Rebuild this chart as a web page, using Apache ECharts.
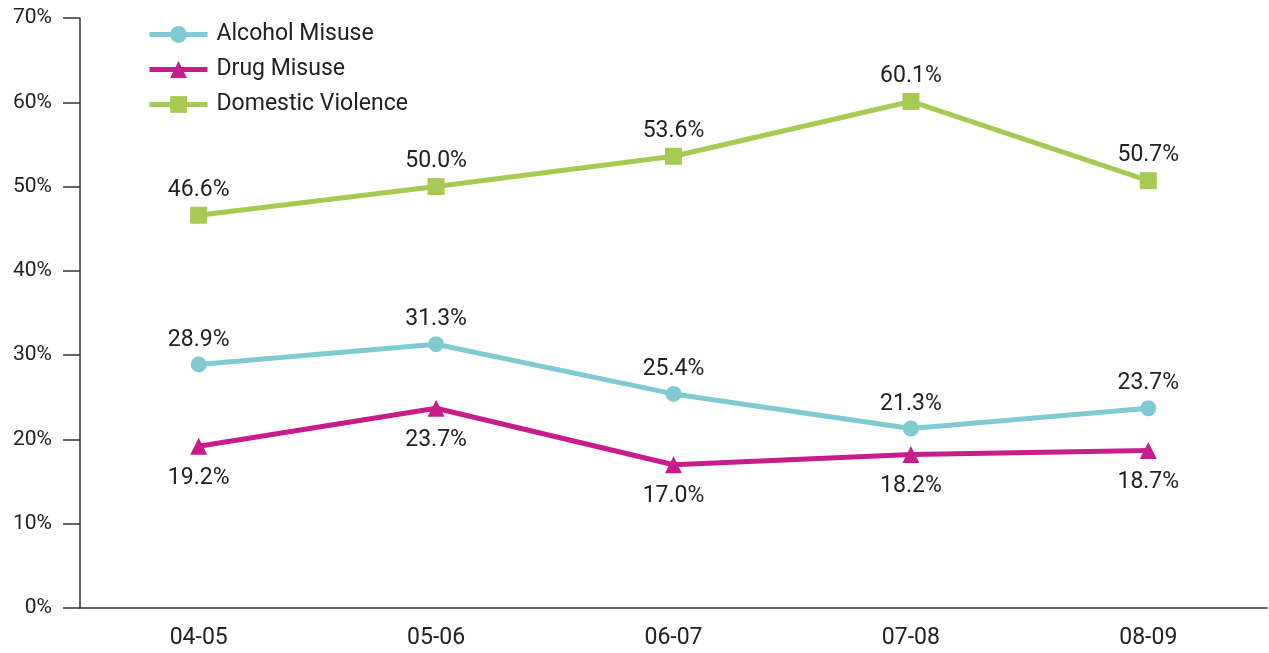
<!DOCTYPE html>
<html>
<head>
<meta charset="utf-8">
<script src="https://cdn.jsdelivr.net/npm/echarts@6/dist/echarts.min.js"></script>
<style>
html,body{margin:0;padding:0;background:#fff;}
#chart{width:1269px;height:653px;}
</style>
</head>
<body>
<div id="chart"></div>
<script>
// data
var years = ['04-05', '05-06', '06-07', '07-08', '08-09'];
var alcohol = [28.9, 31.3, 25.4, 21.3, 23.7];
var drug = [19.2, 23.7, 17.0, 18.2, 18.7];
var domestic = [46.6, 50.0, 53.6, 60.1, 50.7];
var yTicks = [0, 10, 20, 30, 40, 50, 60, 70];

var font = 'Roboto, "Noto Sans", sans-serif';

function makeSeries(name, data, color, symbol, size, pos, dist) {
	return {
		name: name,
		type: 'line',
		data: data,
		symbol: symbol,
		symbolSize: size,
		lineStyle: {width: 5, color: color},
		itemStyle: {color: color},
		label: {
			show: true,
			position: pos,
			distance: dist,
			color: '#222',
			fontSize: 23,
			fontFamily: font,
			formatter: function(p){ return p.value.toFixed(1) + '%'; }
		}
	};
}

var myChart = echarts.init(document.getElementById('chart'));
var option = {
	animation: false,
	textStyle: {fontFamily: font},
	grid: {left: 80, right: 2, top: 18, bottom: 45},
	legend: {
		orient: 'vertical',
		left: 142,
		top: 18,
		itemWidth: 58,
		itemHeight: 21,
		itemGap: 12,
		lineStyle: {width: 5},
		textStyle: {fontSize: 23, lineHeight: 23, color: '#222', fontFamily: font, padding: [0, 0, 0, 4]},
		data: ['Alcohol Misuse', 'Drug Misuse', 'Domestic Violence']
	},
	xAxis: {
		type: 'category',
		data: years,
		boundaryGap: true,
		axisLine: {lineStyle: {color: '#333', width: 1.5}},
		axisTick: {length: 20, lineStyle: {color: '#333', width: 1.5}},
		axisLabel: {color: '#222', fontSize: 23, margin: 19, fontFamily: font}
	},
	yAxis: {
		type: 'value',
		min: yTicks[0],
		max: yTicks[yTicks.length - 1],
		interval: 10,
		splitLine: {show: false},
		axisLine: {show: true, lineStyle: {color: '#333', width: 1.5}},
		axisTick: {show: true, length: 17, lineStyle: {color: '#333', width: 1.5}},
		axisLabel: {color: '#222', fontSize: 21, margin: 28, fontFamily: font, formatter: '{value}%'}
	},
	series: [
		makeSeries('Alcohol Misuse', alcohol, '#80CBD2', 'circle', 16, 'top', 5),
		makeSeries('Drug Misuse', drug, '#C81C8A', 'triangle', 17, 'bottom', 12),
		makeSeries('Domestic Violence', domestic, '#A9CA52', 'rect', 17, 'top', 5)
	]
};
myChart.setOption(option, true);
</script>
</body>
</html>
